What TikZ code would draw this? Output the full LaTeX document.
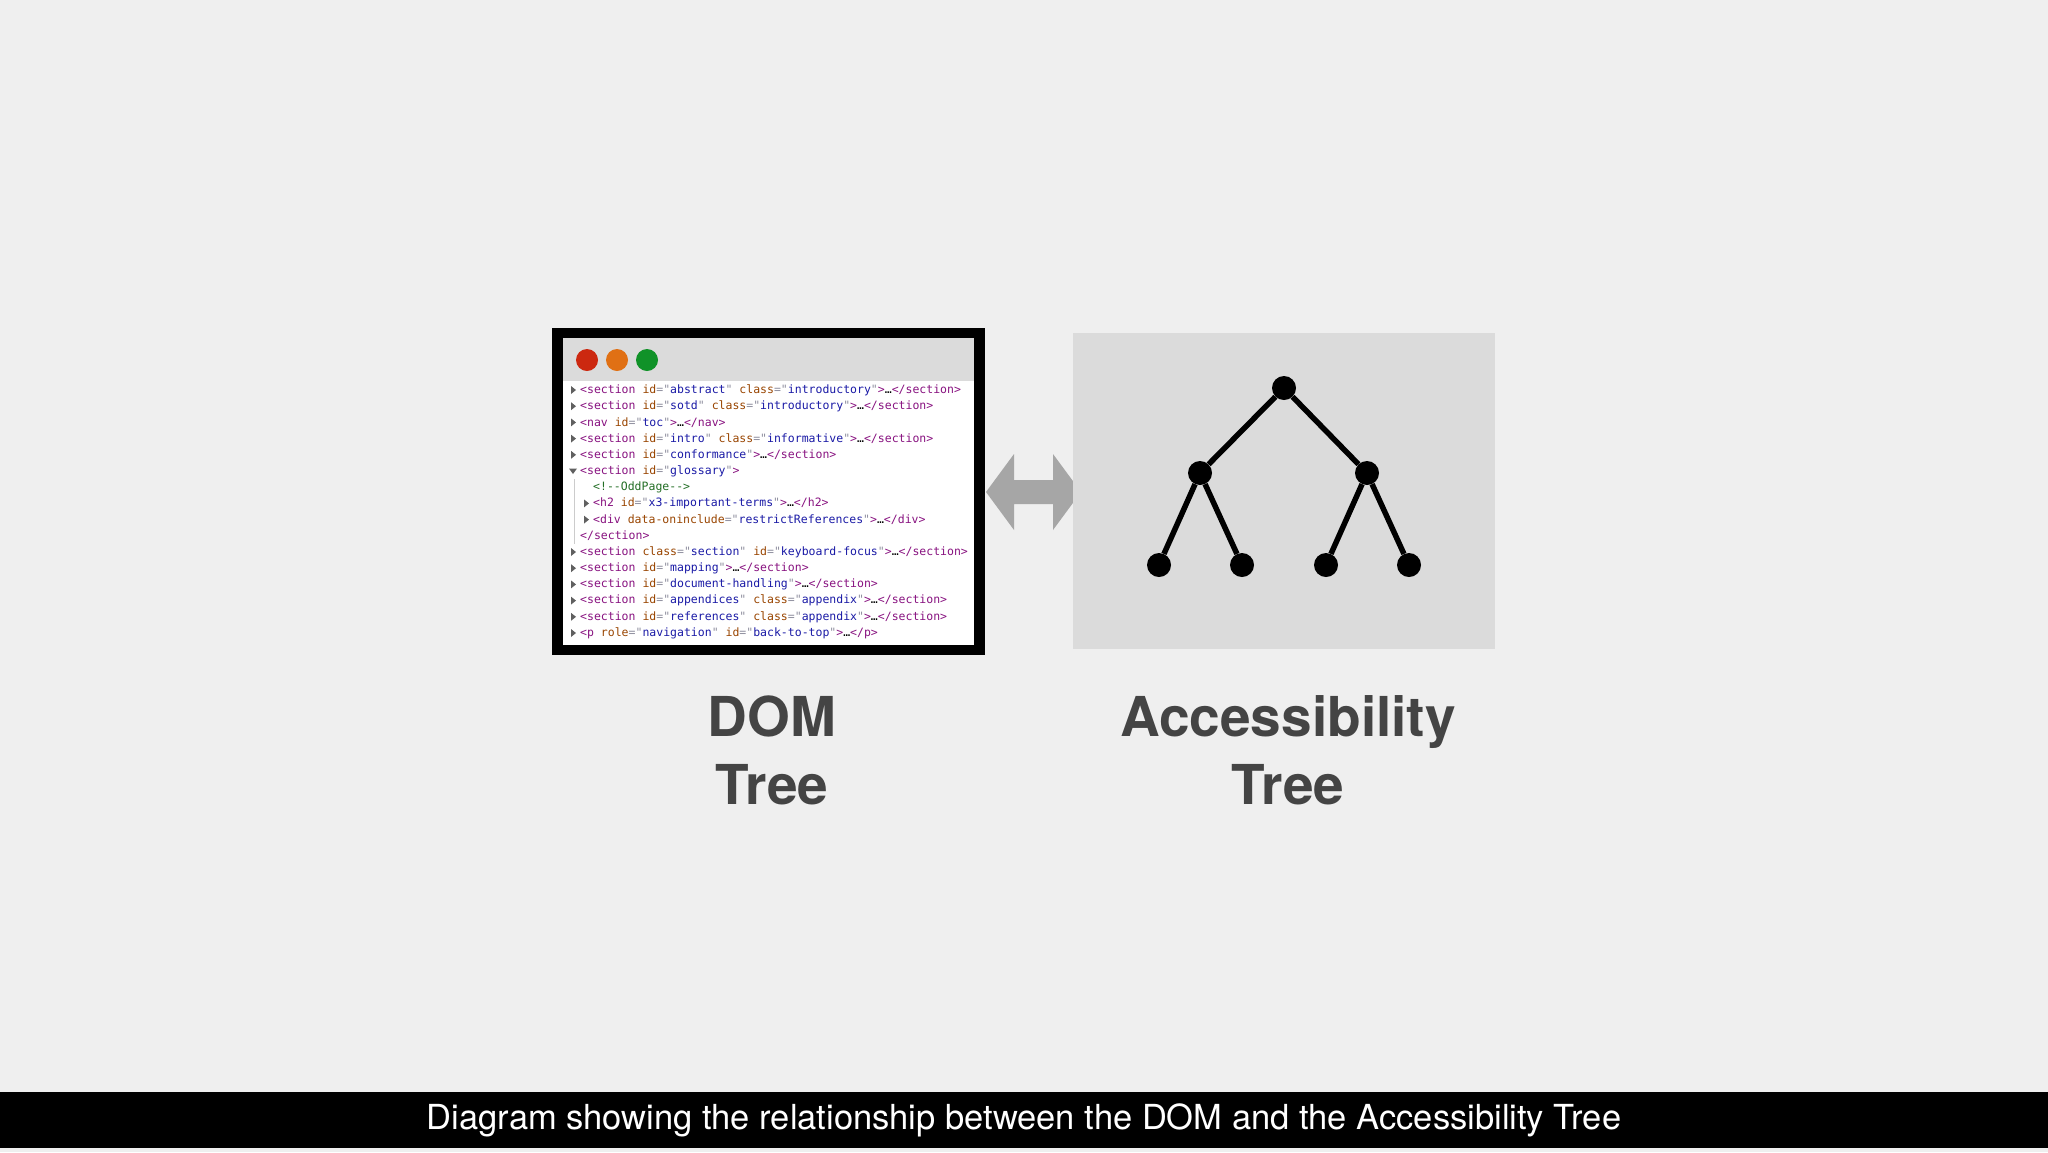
\documentclass[tikz,border=0pt]{standalone}
\usepackage{fontspec}
\setmainfont{TeX Gyre Heros}
\newfontfamily\code{DejaVu Sans Mono}
\newfontfamily\lbl{TeX Gyre Heros}
\definecolor{bg}{HTML}{EFEFEF}
\definecolor{tg}{HTML}{881280}
\definecolor{an}{HTML}{994500}
\definecolor{av}{HTML}{1A1AA6}
\definecolor{cm}{HTML}{236E25}
\definecolor{qq}{HTML}{8E8E9E}
\definecolor{tri}{HTML}{606060}
\definecolor{lab}{HTML}{444444}
\newcommand{\Tg}[1]{\textcolor{tg}{#1}}
\newcommand{\An}[1]{\textcolor{an}{#1}}
\newcommand{\Av}[1]{\textcolor{qq}{="}\textcolor{av}{#1}\textcolor{qq}{"}}
\newcommand{\Ell}{\textcolor{tg}{>}\textcolor{black}{…}}
\begin{document}
\begin{tikzpicture}[x=1pt,y=-1pt,
  codeline/.style={anchor=west,inner sep=0pt,font=\code\fontsize{11.5}{12}\selectfont},
  tnode/.style={circle,fill=black,minimum size=24pt,inner sep=0pt},
  tedge/.style={line width=5.5pt},
  dot/.style={circle,minimum size=22pt,inner sep=0pt},
  biglabel/.style={font=\lbl\bfseries\fontsize{55}{68}\selectfont,text=lab,align=center}]
\fill[bg] (0,0) rectangle (2048,1152);
% browser
\fill[black] (552,328) rectangle (985,655);
\fill[white] (563,338) rectangle (974,645);
\fill[black!14] (563,338) rectangle (974,381);
\node[dot,fill={rgb,255:red,204;green,40;blue,16}] (r) at (587,360) {};
\node[dot,fill={rgb,255:red,224;green,112;blue,20}] (o) at (617,360) {};
\node[dot,fill={rgb,255:red,16;green,146;blue,40}] (g) at (647,360) {};
\def\ly#1{390+16.2*#1}
% triangles
\foreach \i in {0,1,2,3,4,10,11,12,13,14,15}{
  \fill[tri] (571,{\ly{\i}-4}) -- (576,{\ly{\i}}) -- (571,{\ly{\i}+4}) -- cycle;}
\foreach \i in {7,8}{
  \fill[tri] (584,{\ly{\i}-4}) -- (589,{\ly{\i}}) -- (584,{\ly{\i}+4}) -- cycle;}
\fill[tri] (569,{\ly{5}-2.5}) -- (577,{\ly{5}-2.5}) -- (573,{\ly{5}+3}) -- cycle;
\draw[black!20,line width=1pt] (574,{\ly{5}+8}) -- (574,{\ly{9}+8});
\node[codeline] (l0) at (580,{\ly{0}}) {\Tg{<section} \An{id}\Av{abstract} \An{class}\Av{introductory}\Ell\Tg{</section>}};
\node[codeline] (l1) at (580,{\ly{1}}) {\Tg{<section} \An{id}\Av{sotd} \An{class}\Av{introductory}\Ell\Tg{</section>}};
\node[codeline] (l2) at (580,{\ly{2}}) {\Tg{<nav} \An{id}\Av{toc}\Ell\Tg{</nav>}};
\node[codeline] (l3) at (580,{\ly{3}}) {\Tg{<section} \An{id}\Av{intro} \An{class}\Av{informative}\Ell\Tg{</section>}};
\node[codeline] (l4) at (580,{\ly{4}}) {\Tg{<section} \An{id}\Av{conformance}\Ell\Tg{</section>}};
\node[codeline] (l5) at (580,{\ly{5}}) {\Tg{<section} \An{id}\Av{glossary}\Tg{>}};
\node[codeline] (l6) at (593,{\ly{6}}) {\textcolor{cm}{<!--OddPage-->}};
\node[codeline] (l7) at (593,{\ly{7}}) {\Tg{<h2} \An{id}\Av{x3-important-terms}\Ell\Tg{</h2>}};
\node[codeline] (l8) at (593,{\ly{8}}) {\Tg{<div} \An{data-oninclude}\Av{restrictReferences}\Ell\Tg{</div>}};
\node[codeline] (l9) at (580,{\ly{9}}) {\Tg{</section>}};
\node[codeline] (l10) at (580,{\ly{10}}) {\Tg{<section} \An{class}\Av{section} \An{id}\Av{keyboard-focus}\Ell\Tg{</section>}};
\node[codeline] (l11) at (580,{\ly{11}}) {\Tg{<section} \An{id}\Av{mapping}\Ell\Tg{</section>}};
\node[codeline] (l12) at (580,{\ly{12}}) {\Tg{<section} \An{id}\Av{document-handling}\Ell\Tg{</section>}};
\node[codeline] (l13) at (580,{\ly{13}}) {\Tg{<section} \An{id}\Av{appendices} \An{class}\Av{appendix}\Ell\Tg{</section>}};
\node[codeline] (l14) at (580,{\ly{14}}) {\Tg{<section} \An{id}\Av{references} \An{class}\Av{appendix}\Ell\Tg{</section>}};
\node[codeline] (l15) at (580,{\ly{15}}) {\Tg{<p} \An{role}\Av{navigation} \An{id}\Av{back-to-top}\Ell\Tg{</p>}};
% double arrow
\fill[black!35] (986,492) -- (1014,454) -- (1014,480) -- (1053,480) -- (1053,454) -- (1081,492)
  -- (1053,530) -- (1053,504) -- (1014,504) -- (1014,530) -- cycle;
% tree box
\fill[black!14] (1073,333) rectangle (1495,649);
\node[tnode] (t) at (1284,388) {};
\node[tnode] (a) at (1200,473) {};
\node[tnode] (b) at (1367,473) {};
\node[tnode] (a1) at (1159,565) {};
\node[tnode] (a2) at (1242,565) {};
\node[tnode] (b1) at (1326,565) {};
\node[tnode] (b2) at (1409,565) {};
\draw[tedge] (t) -- (a) (t) -- (b) (a) -- (a1) (a) -- (a2) (b) -- (b1) (b) -- (b2);
% labels
\node[biglabel] (dom) at (772,750) {DOM\\Tree};
\node[biglabel] (acc) at (1288,750) {Accessibility\\Tree};
% caption
\fill[black] (0,1092) rectangle (2048,1148);
\node[text=white,font=\fontsize{34.5}{40}\selectfont] (cap) at (1024,1120) {Diagram showing the relationship between the DOM and the Accessibility Tree};
\end{tikzpicture}
\end{document}
